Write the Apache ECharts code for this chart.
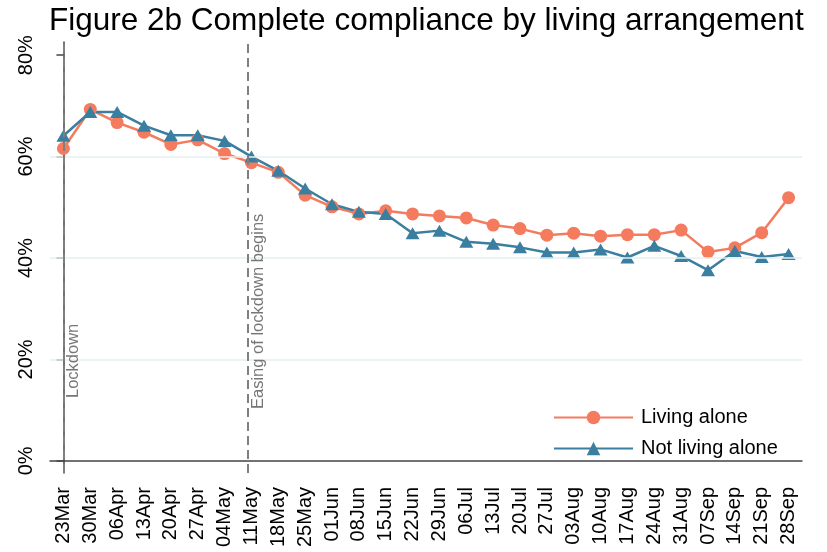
<!DOCTYPE html>
<html>
<head>
<meta charset="utf-8">
<script src="https://cdn.jsdelivr.net/npm/echarts@6/dist/echarts.min.js"></script>
<style>
  html, body { margin: 0; padding: 0; background: #fff; }
  #chart { width: 827px; height: 552px; }
</style>
</head>
<body>
<div id="chart"></div>
<script>
// weekly survey waves
var weeks = ['23Mar', '30Mar', '06Apr', '13Apr', '20Apr', '27Apr', '04May', '11May', '18May', '25May',
    '01Jun', '08Jun', '15Jun', '22Jun', '29Jun', '06Jul', '13Jul', '20Jul', '27Jul', '03Aug',
    '10Aug', '17Aug', '24Aug', '31Aug', '07Sep', '14Sep', '21Sep', '28Sep'];
var livingAlone = [61.6, 69.3, 66.7, 64.8, 62.4, 63.3, 60.6, 58.8, 56.9, 52.4,
    50.1, 48.7, 49.3, 48.7, 48.3, 47.9, 46.5, 45.8, 44.5, 44.9,
    44.3, 44.6, 44.6, 45.5, 41.2, 42.0, 45.0, 51.9];
var notLivingAlone = [64.1, 68.8, 68.8, 66.1, 64.2, 64.2, 63.1, 60.0, 57.2, 53.7,
    50.6, 49.1, 48.7, 44.9, 45.4, 43.2, 42.8, 42.1, 41.1, 41.1,
    41.7, 40.1, 42.4, 40.4, 37.6, 41.4, 40.2, 40.8];
var yTicks = [0, 20, 40, 60, 80];
var yGrid = [20, 40, 60];
var yRange = [-2.4, 82.6];
// events, position in weeks from 23Mar
var eventNames = ['Lockdown', 'Easing of lockdown begins'];
var eventPos = [0, 6.857];

var font = 'Liberation Sans, Arial, sans-serif';
var orange = '#f47b5e';
var blue = '#3a7ea0';

var myChart = echarts.init(document.getElementById('chart'));

var eventLabelDist = [[75, 2], [64, 2]];
var eventLines = eventNames.map(function (n, i) {
    return {
        xAxis: eventPos[i],
        label: {
            show: true,
            formatter: n,
            position: 'insideStartBottom',
            distance: eventLabelDist[i],
            color: '#777',
            fontSize: 16.5,
            fontFamily: font
        }
    };
});

var option = {
    animation: false,
    backgroundColor: '#fff',
    title: {
        text: 'Figure 2b Complete compliance by living arrangement',
        left: 44,
        top: 0,
        textStyle: { fontFamily: font, fontSize: 31.5, fontWeight: 'normal', color: '#000' }
    },
    legend: {
        orient: 'vertical',
        left: 548,
        top: 402,
        itemWidth: 79,
        itemHeight: 17,
        itemGap: 10,
        textStyle: { fontFamily: font, fontSize: 20, color: '#000', padding: [0, 0, 0, 3], lineHeight: 21 },
        data: ['Living alone', 'Not living alone']
    },
    grid: { left: 50, right: 25, top: 42, bottom: 79, containLabel: false },
    xAxis: [{
        type: 'category',
        data: weeks,
        boundaryGap: true,
        axisLine: { lineStyle: { color: '#444', width: 1.5 } },
        axisTick: { alignWithLabel: true, length: 7, lineStyle: { color: '#444', width: 1.5 } },
        axisLabel: { rotate: 90, interval: 0, margin: 14, fontSize: 20, color: '#000', fontFamily: font },
        splitLine: { show: false }
    }, {
        type: 'value',
        show: false,
        min: -0.5,
        max: weeks.length - 0.5
    }],
    yAxis: {
        type: 'value',
        min: yRange[0],
        max: yRange[1],
        axisLine: { show: true, lineStyle: { color: '#444', width: 1.5 } },
        axisTick: { show: true, length: 7, customValues: yTicks, lineStyle: { color: '#444', width: 1.5 } },
        axisLabel: {
            rotate: 90, margin: 14, fontSize: 20, color: '#000', fontFamily: font,
            customValues: yTicks,
            formatter: function (v) { return v + '%'; }
        },
        splitLine: { show: false }
    },
    series: [{
        // gridlines
        type: 'line',
        data: [],
        z: 1,
        silent: true,
        markLine: {
            silent: true,
            symbol: 'none',
            label: { show: false },
            lineStyle: { color: '#e6eff1', type: 'solid', width: 1.5 },
            data: yGrid.map(function (v) { return { yAxis: v }; })
        }
    }, {
        // event lines
        type: 'line',
        xAxisIndex: 1,
        data: [],
        z: 1,
        silent: true,
        markLine: {
            silent: true,
            symbol: 'none',
            lineStyle: { color: '#808080', type: [9, 5], width: 2 },
            data: eventLines
        }
    }, {
        name: 'Living alone',
        type: 'line',
        data: livingAlone,
        symbol: 'circle',
        symbolSize: 13,
        itemStyle: { color: orange },
        lineStyle: { color: orange, width: 2.5 }
    }, {
        name: 'Not living alone',
        type: 'line',
        data: notLivingAlone,
        symbol: 'triangle',
        symbolSize: [14, 12],
        itemStyle: { color: blue },
        lineStyle: { color: blue, width: 2.5 }
    }]
};
myChart.setOption(option);
</script>
</body>
</html>
